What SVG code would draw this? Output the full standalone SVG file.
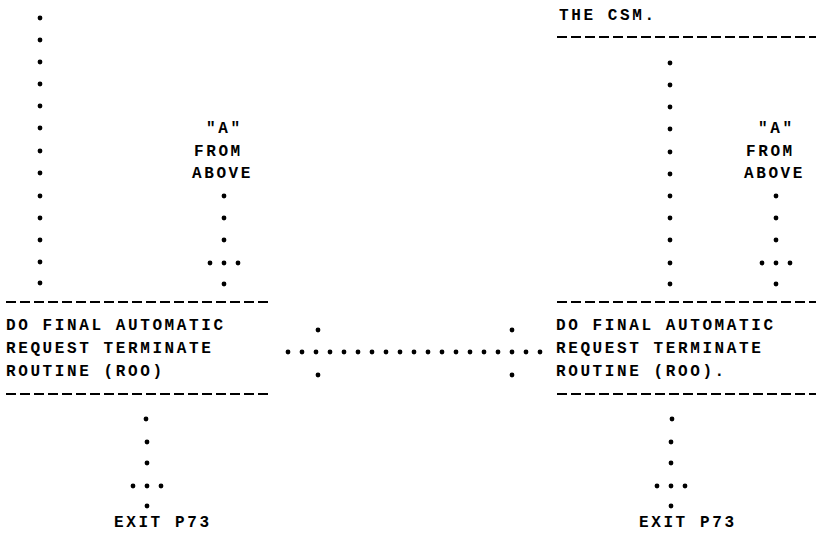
<svg xmlns="http://www.w3.org/2000/svg" xmlns:xlink="http://www.w3.org/1999/xlink" width="816" height="543" viewBox="0 0 816 543">
<style>
  text { font-family: "Liberation Mono", "DejaVu Sans Mono", monospace; font-weight: bold; font-size: 16px; letter-spacing: 2.6px; fill: #000; }
  .dash { stroke: #000; stroke-width: 2; stroke-dasharray: 10 4; fill: none; }
</style>
<defs>
  <circle id="d" r="2.4" fill="#000"/>
</defs>
<rect width="816" height="543" fill="#fff"/>

<g id="connectors">
  <g>
    <use xlink:href="#d" x="40" y="18"/><use xlink:href="#d" x="40" y="40"/><use xlink:href="#d" x="40" y="62"/>
    <use xlink:href="#d" x="40" y="84"/><use xlink:href="#d" x="40" y="106"/><use xlink:href="#d" x="40" y="128"/>
    <use xlink:href="#d" x="40" y="151"/><use xlink:href="#d" x="40" y="173"/><use xlink:href="#d" x="40" y="196"/>
    <use xlink:href="#d" x="40" y="218"/><use xlink:href="#d" x="40" y="240"/><use xlink:href="#d" x="40" y="262"/>
    <use xlink:href="#d" x="40" y="283"/>
  </g>
  <g>
    <use xlink:href="#d" x="224" y="196"/><use xlink:href="#d" x="224" y="218"/><use xlink:href="#d" x="224" y="240"/>
    <use xlink:href="#d" x="210" y="263"/><use xlink:href="#d" x="224" y="263"/><use xlink:href="#d" x="238" y="263"/>
    <use xlink:href="#d" x="224" y="284"/>
  </g>
  <g>
    <use xlink:href="#d" x="670" y="63"/><use xlink:href="#d" x="670" y="85"/><use xlink:href="#d" x="670" y="107"/>
    <use xlink:href="#d" x="670" y="129"/><use xlink:href="#d" x="670" y="152"/><use xlink:href="#d" x="670" y="174"/>
    <use xlink:href="#d" x="670" y="196"/><use xlink:href="#d" x="670" y="218"/><use xlink:href="#d" x="670" y="240"/>
    <use xlink:href="#d" x="670" y="263"/><use xlink:href="#d" x="670" y="284"/>
  </g>
  <g>
    <use xlink:href="#d" x="776" y="196"/><use xlink:href="#d" x="776" y="218"/><use xlink:href="#d" x="776" y="240"/>
    <use xlink:href="#d" x="762" y="263"/><use xlink:href="#d" x="776" y="263"/><use xlink:href="#d" x="790" y="263"/>
    <use xlink:href="#d" x="776" y="284"/>
  </g>
  <g>
    <use xlink:href="#d" x="318" y="330"/><use xlink:href="#d" x="512" y="330"/>
    <use xlink:href="#d" x="318" y="375"/><use xlink:href="#d" x="512" y="375"/>
    <use xlink:href="#d" x="288" y="352"/><use xlink:href="#d" x="302" y="352"/><use xlink:href="#d" x="316" y="352"/>
    <use xlink:href="#d" x="330" y="352"/><use xlink:href="#d" x="344" y="352"/><use xlink:href="#d" x="358" y="352"/>
    <use xlink:href="#d" x="372" y="352"/><use xlink:href="#d" x="386" y="352"/><use xlink:href="#d" x="400" y="352"/>
    <use xlink:href="#d" x="414" y="352"/><use xlink:href="#d" x="428" y="352"/><use xlink:href="#d" x="442" y="352"/>
    <use xlink:href="#d" x="456" y="352"/><use xlink:href="#d" x="470" y="352"/><use xlink:href="#d" x="484" y="352"/>
    <use xlink:href="#d" x="498" y="352"/><use xlink:href="#d" x="512" y="352"/><use xlink:href="#d" x="526" y="352"/>
    <use xlink:href="#d" x="540" y="352"/>
  </g>
  <g>
    <use xlink:href="#d" x="146" y="419"/><use xlink:href="#d" x="147" y="442"/><use xlink:href="#d" x="147" y="463"/>
    <use xlink:href="#d" x="133" y="486"/><use xlink:href="#d" x="147" y="486"/><use xlink:href="#d" x="161" y="486"/>
    <use xlink:href="#d" x="147" y="506"/>
  </g>
  <g>
    <use xlink:href="#d" x="672" y="419"/><use xlink:href="#d" x="671" y="442"/><use xlink:href="#d" x="671" y="463"/>
    <use xlink:href="#d" x="657" y="486"/><use xlink:href="#d" x="671" y="486"/><use xlink:href="#d" x="685" y="486"/>
    <use xlink:href="#d" x="671" y="506"/>
  </g>
</g>

<g id="label-a-left">
  <text x="206" y="133">"A"</text>
  <text x="194" y="156">FROM</text>
  <text x="192" y="178">ABOVE</text>
</g>

<g id="label-a-right">
  <text x="758" y="133">"A"</text>
  <text x="746" y="156">FROM</text>
  <text x="744" y="178">ABOVE</text>
</g>

<g id="header-right">
  <text x="559" y="20">THE CSM.</text>
  <line class="dash" x1="557" y1="37" x2="816" y2="37"/>
</g>

<g id="box-left">
  <line class="dash" x1="6" y1="302" x2="272" y2="302"/>
  <text x="6" y="330">DO FINAL AUTOMATIC</text>
  <text x="6" y="353">REQUEST TERMINATE</text>
  <text x="6" y="376">ROUTINE (ROO)</text>
  <line class="dash" x1="6" y1="394" x2="272" y2="394"/>
</g>

<g id="box-right">
  <line class="dash" x1="557" y1="302" x2="816" y2="302"/>
  <text x="556" y="330">DO FINAL AUTOMATIC</text>
  <text x="556" y="353">REQUEST TERMINATE</text>
  <text x="556" y="376">ROUTINE (ROO).</text>
  <line class="dash" x1="557" y1="394" x2="816" y2="394"/>
</g>

<g id="exit-left">
  <text x="114" y="527">EXIT P73</text>
</g>

<g id="exit-right">
  <text x="639" y="527">EXIT P73</text>
</g>
</svg>
